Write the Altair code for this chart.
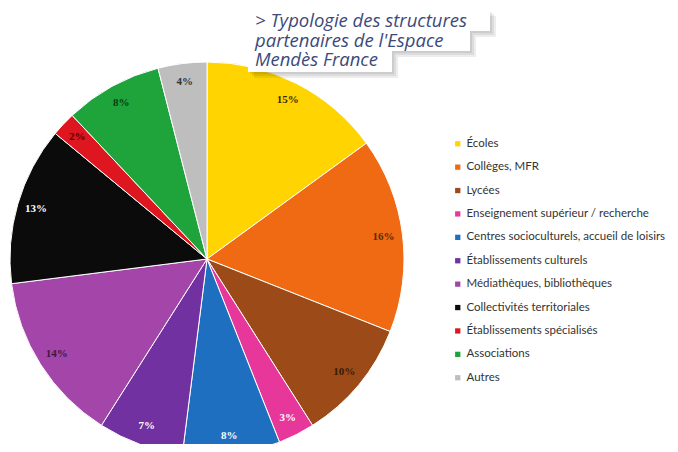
import altair as alt
import pandas as pd

categories = [
    "Écoles", "Collèges, MFR", "Lycées", "Enseignement supérieur / recherche",
    "Centres socioculturels, accueil de loisirs", "Établissements culturels",
    "Médiathèques, bibliothèques", "Collectivités territoriales",
    "Établissements spécialisés", "Associations", "Autres",
]
values = [15, 16, 10, 3, 8, 7, 14, 13, 2, 8, 4]
colors = ["#FFD400", "#EF6A12", "#9C4A17", "#E8379B", "#1F6FC0", "#7231A0",
          "#A445A9", "#0B0B0B", "#DD1620", "#1FA33B", "#BEBEBE"]
label_colors = ["#3a2a00", "#5a2a08", "#3a1a05", "#ffffff", "#ffffff", "#ffffff",
                "#3a1a40", "#ffffff", "#5a0000", "#0a3a10", "#333333"]
title_lines = ["> Typologie des structures", "partenaires de l'Espace", "Mendès France"]

df = pd.DataFrame({
    "cat": categories,
    "value": values,
    "idx": list(range(len(categories))),
    "label": [f"{v}%" for v in values],
    "lc": label_colors,
})

CX, CY, R = 199, 251, 197

base = alt.Chart(df).encode(
    theta=alt.Theta("value:Q", stack=True),
    order=alt.Order("idx:Q"),
)

pie = base.mark_arc(outerRadius=R, stroke="white", strokeWidth=1).encode(
    color=alt.Color(
        "cat:N",
        scale=alt.Scale(domain=categories, range=colors),
        sort=categories,
        legend=alt.Legend(
            title=None, orient="none", legendX=444, legendY=130,
            symbolType="square", symbolSize=28, symbolStrokeWidth=0,
            labelFont="Lato", labelFontSize=11.5, labelColor="#333333",
            labelOffset=3, labelLimit=400, rowPadding=10.4,
        ),
    ),
    x=alt.value(CX),
    y=alt.value(CY),
)

labels = base.mark_text(radius=178, font="Liberation Serif", fontSize=11,
                        fontWeight="bold").encode(
    text="label:N",
    color=alt.Color("lc:N", scale=None),
    x=alt.value(CX),
    y=alt.value(CY),
)

one = alt.Data(values=[{}])
box_right = [482, 462, 384]
box_top = [2, 23, 43]
box_bottom = [23, 43, 64]
shadows, boxes = [], []
for i in range(len(title_lines)):
    for k in (2, 4, 6):
        shadows.append(alt.Chart(one).mark_rect(color="#000000", opacity=0.07).encode(
            x=alt.value(240 + k), x2=alt.value(box_right[i] + k),
            y=alt.value(box_top[i] + k), y2=alt.value(box_bottom[i] + k),
        ))
    boxes.append(alt.Chart(one).mark_rect(color="white").encode(
        x=alt.value(240), x2=alt.value(box_right[i]),
        y=alt.value(box_top[i]), y2=alt.value(box_bottom[i]),
    ))

title_text = alt.Chart(one).mark_text(
    text=title_lines, align="left", baseline="alphabetic", font="Open Sans",
    fontStyle="italic", fontSize=18.5, lineHeight=19.7, color="#3C4A7A",
).encode(x=alt.value(247), y=alt.value(19))

chart = alt.layer(pie, labels, *shadows, *boxes, title_text).properties(
    width=662, height=436, padding=0,
    autosize=alt.AutoSizeParams(type="none"),
).configure_view(stroke=None)

chart.save("out.html", embed_options={"renderer": "svg", "actions": False})
